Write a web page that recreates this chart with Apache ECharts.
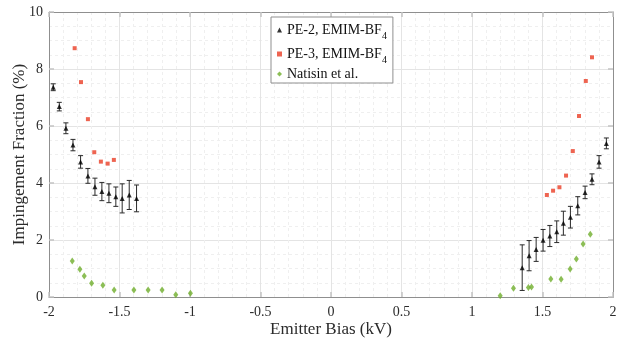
<!DOCTYPE html>
<html>
<head>
<meta charset="utf-8">
<script src="https://cdn.jsdelivr.net/npm/echarts@6/dist/echarts.min.js"></script>
<style>
  html, body { margin: 0; padding: 0; background: #fff; }
  #chart { width: 622px; height: 339px; }
</style>
</head>
<body>
<div id="chart"></div>
<script>
// Emitter bias (kV) and impingement fraction (%) per data set
const pe2Bias = [-1.97, -1.927, -1.88, -1.83, -1.776, -1.724, -1.674, -1.625, -1.575, -1.526, -1.481, -1.431, -1.379,
                 1.356, 1.405, 1.455, 1.504, 1.552, 1.601, 1.648, 1.698, 1.75, 1.802, 1.851, 1.901, 1.953];
const pe2Frac = [7.36, 6.68, 5.92, 5.33, 4.74, 4.25, 3.87, 3.70, 3.64, 3.52, 3.46, 3.58, 3.46,
                 1.03, 1.45, 1.67, 1.99, 2.14, 2.29, 2.59, 2.80, 3.20, 3.67, 4.13, 4.74, 5.39];
const pe2Err  = [0.12, 0.15, 0.19, 0.20, 0.22, 0.26, 0.30, 0.32, 0.33, 0.34, 0.51, 0.51, 0.47,
                 0.80, 0.53, 0.42, 0.38, 0.37, 0.38, 0.42, 0.38, 0.32, 0.22, 0.19, 0.22, 0.19];

const pe3Bias = [-1.818, -1.773, -1.724, -1.679, -1.632, -1.584, -1.540,
                 1.531, 1.575, 1.620, 1.667, 1.715, 1.759, 1.807, 1.851];
const pe3Frac = [8.73, 7.54, 6.24, 5.08, 4.75, 4.68, 4.81,
                 3.58, 3.73, 3.85, 4.26, 5.12, 6.35, 7.58, 8.41];

const natBias = [-1.835, -1.781, -1.750, -1.698, -1.618, -1.538, -1.398, -1.297, -1.198, -1.101, -0.997,
                 1.200, 1.294, 1.400, 1.422, 1.559, 1.632, 1.696, 1.740, 1.788, 1.839];
const natFrac = [1.26, 0.97, 0.74, 0.48, 0.41, 0.25, 0.25, 0.25, 0.25, 0.08, 0.13,
                 0.04, 0.31, 0.33, 0.35, 0.63, 0.62, 0.98, 1.33, 1.86, 2.20];

const seriesNames = ['PE-2, EMIM-BF4', 'PE-3, EMIM-BF4', 'Natisin et al.'];

const FONT = '"Liberation Serif", "DejaVu Serif", serif';
const AXIS_GREY = '#8f8f8f';
const TICK_GREY = '#c4c4c4';

const zip = (xs, ys) => xs.map((x, i) => [x, ys[i]]);
const errRows = pe2Bias.map((x, i) => [x, pe2Frac[i] - pe2Err[i], pe2Frac[i] + pe2Err[i]]);

const chart = echarts.init(document.getElementById('chart'), null, { renderer: 'canvas' });

const baseX = {
  type: 'value', min: -2, max: 2, interval: 0.5,
  axisLine: { show: true, onZero: false, lineStyle: { color: AXIS_GREY, width: 1 } },
  axisTick: { show: true, inside: true, length: 5, lineStyle: { color: TICK_GREY, width: 1.5 } },
  minorTick: { show: false, splitNumber: 5 },
};
const baseY = {
  type: 'value', min: 0, max: 10, interval: 2,
  axisLine: { show: true, onZero: false, lineStyle: { color: AXIS_GREY, width: 1 } },
  axisTick: { show: true, inside: true, length: 5, lineStyle: { color: TICK_GREY, width: 1.5 } },
  minorTick: { show: false, splitNumber: 4 },
};

chart.setOption({
  animation: false,
  backgroundColor: '#ffffff',
  grid: { left: 49, right: 9, top: 12, bottom: 42, containLabel: false, outerBoundsMode: 'none' },
  xAxis: [
    Object.assign({}, baseX, {
      position: 'bottom',
      name: 'Emitter Bias (kV)', nameLocation: 'middle', nameGap: 24, nameMoveOverlap: false,
      nameTextStyle: { fontFamily: FONT, fontSize: 17, color: '#2b2b2b' },
      axisLabel: { show: true, margin: 8, fontFamily: FONT, fontSize: 14, color: '#2b2b2b' },
      splitLine: { show: true, lineStyle: { color: '#e4e4e4', width: 1 } },
      minorSplitLine: { show: true, lineStyle: { color: '#efefef', width: 1, type: [3, 3] } },
    }),
    Object.assign({}, baseX, {
      position: 'top',
      axisLabel: { show: false },
      splitLine: { show: false },
    }),
  ],
  yAxis: [
    Object.assign({}, baseY, {
      position: 'left',
      name: 'Impingement Fraction (%)', nameLocation: 'middle', nameGap: 21, nameMoveOverlap: false,
      nameTextStyle: { fontFamily: FONT, fontSize: 17, color: '#2b2b2b' },
      axisLabel: { show: true, margin: 6, fontFamily: FONT, fontSize: 14, color: '#2b2b2b' },
      splitLine: { show: true, lineStyle: { color: '#e4e4e4', width: 1 } },
      minorSplitLine: { show: true, lineStyle: { color: '#efefef', width: 1, type: [3, 3] } },
    }),
    Object.assign({}, baseY, {
      position: 'right',
      axisLabel: { show: false },
      splitLine: { show: false },
    }),
  ],
  legend: {
    data: seriesNames,
    orient: 'vertical',
    left: 271, top: 17,
    padding: [2, 6, 2, 6],
    itemGap: 2,
    itemWidth: 5, itemHeight: 5,
    backgroundColor: '#ffffff',
    borderColor: '#8f8f8f', borderWidth: 1, borderRadius: 0,
    formatter: function (name) {
      if (name.endsWith('BF4')) return '{m|' + name.slice(0, -1) + '}{s|4}';
      return '{m|' + name + '}';
    },
    textStyle: {
      fontFamily: FONT, fontSize: 14, color: '#111',
      rich: {
        m: { fontFamily: FONT, fontSize: 14, color: '#111', lineHeight: 18 },
        s: { fontFamily: FONT, fontSize: 10, color: '#111', padding: [12, 0, 0, 0], lineHeight: 10 },
      },
    },
  },
  series: [
    {
      type: 'custom',
      name: 'errorbars',
      renderItem: function (params, api) {
        const x = api.value(0);
        const lo = api.coord([x, api.value(1)]);
        const hi = api.coord([x, api.value(2)]);
        const cap = 2.5;
        const style = { stroke: '#2a2a2a', lineWidth: 1, fill: null };
        return {
          type: 'group',
          children: [
            { type: 'line', shape: { x1: lo[0], y1: lo[1], x2: hi[0], y2: hi[1] }, style: style },
            { type: 'line', shape: { x1: lo[0] - cap, y1: lo[1], x2: lo[0] + cap, y2: lo[1] }, style: style },
            { type: 'line', shape: { x1: hi[0] - cap, y1: hi[1], x2: hi[0] + cap, y2: hi[1] }, style: style },
          ],
        };
      },
      encode: { x: 0, y: [1, 2] },
      data: errRows,
      z: 2,
      silent: true,
    },
    {
      name: seriesNames[0], type: 'scatter', symbol: 'triangle', symbolSize: 5,
      itemStyle: { color: '#000000' }, data: zip(pe2Bias, pe2Frac), z: 3,
    },
    {
      name: seriesNames[1], type: 'scatter', symbol: 'rect', symbolSize: 4,
      itemStyle: { color: '#ea3d26' }, data: zip(pe3Bias, pe3Frac), z: 3,
    },
    {
      name: seriesNames[2], type: 'scatter', symbol: 'diamond', symbolSize: [5, 7],
      itemStyle: { color: '#6fae2c' }, data: zip(natBias, natFrac), z: 3,
    },
  ],
});
</script>
</body>
</html>
